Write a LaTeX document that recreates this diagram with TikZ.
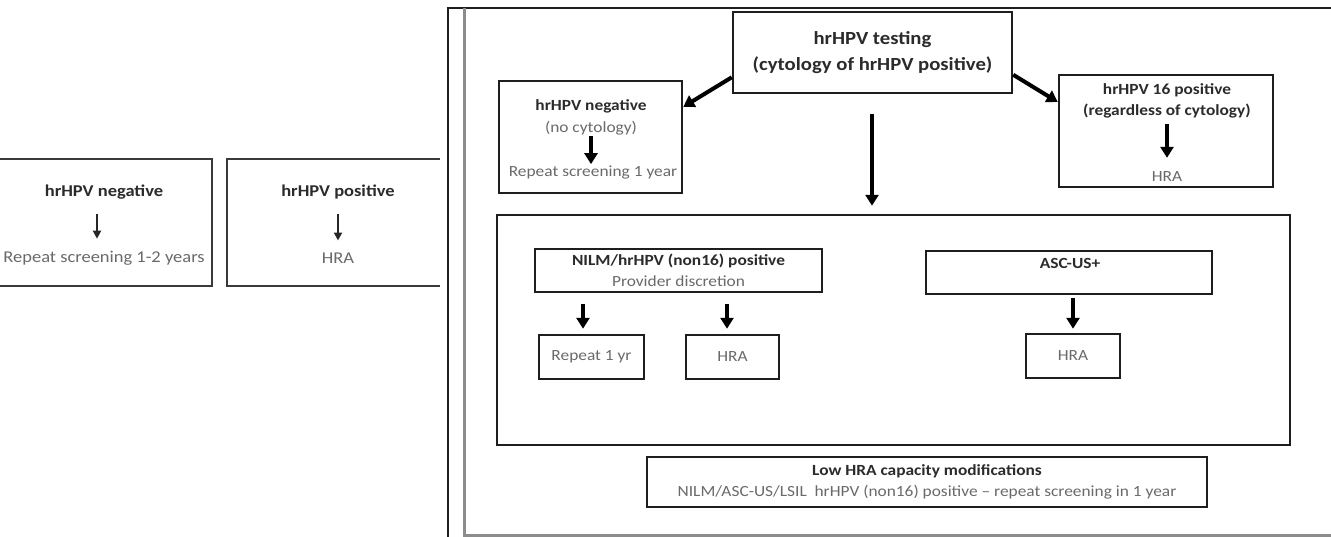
\documentclass[tikz,border=0pt]{standalone}
\usepackage{fontspec}
\setmainfont{Carlito}[FakeStretch=1.12]
\usetikzlibrary{arrows.meta,calc}
\definecolor{linec}{HTML}{1E1E1E}
\definecolor{lbox}{HTML}{3A3A3A}
\definecolor{boldc}{HTML}{2B2B2B}
\definecolor{regc}{HTML}{6A6A6A}
\definecolor{framec}{HTML}{8C8C8C}
\newcommand{\bt}[1]{{\bfseries\color{boldc}#1}}
\newcommand{\rt}[1]{{\color{regc}#1}}
\begin{document}
\begin{tikzpicture}[x=1pt,y=-1pt,
  box/.style={draw=linec, line width=2.5pt, inner sep=0pt, align=center, font=\fontsize{15.5}{20.5}\selectfont},
  lbox/.style={draw=lbox, line width=2.5pt, inner sep=0pt},
  txt/.style={inner sep=0pt, align=center, font=\fontsize{15.5}{21.5}\selectfont},
  ltxt/.style={inner sep=0pt, align=center, font=\fontsize{16.5}{20}\selectfont},
  bigarr/.style={draw=black, line width=4pt, -{Triangle[length=11pt,width=13pt]}},
  smallarr/.style={draw=black!85, line width=2pt, -{Triangle[length=8pt,width=8pt]}},
]
\clip (0,0) rectangle (1331,536);
\fill[white] (0,0) rectangle (1331,536);

% outer frame
\draw[linec, line width=2pt] (1340,8) -- (448,8) -- (448,540);
\draw[framec, line width=3pt] (464,8) -- (464,535) -- (1340,535);

% left boxes
\node[lbox, minimum width=217pt, minimum height=127pt] (L1) at (103.5,222.5) {};
\node[inner sep=0pt, minimum width=213pt, minimum height=127pt] (L2) at (333.5,222.5) {};
\draw[lbox] (L2.north east) -- (L2.north west) -- (L2.south west) -- (L2.south east);
\node[ltxt] (l1t) at (104,192) {\bt{hrHPV negative}};
\node[ltxt] (l1r) at (104,258) {\rt{Repeat screening 1-2 years}};
\node[ltxt] (l2t) at (338,192) {\bt{hrHPV positive}};
\node[ltxt] (l2r) at (338,258) {\rt{HRA}};
\draw[smallarr, shorten <=15pt, shorten >=12pt] ($(l1t.south)+(-7,0)$) -- ($(l1r.north)+(-7,0)$);
\draw[smallarr, shorten <=15pt, shorten >=12pt] (l2t.south) -- (l2r.north);

% top box
\node[box, minimum width=279pt, minimum height=81pt, font=\fontsize{18.5}{26}\selectfont] (top) at (872.5,52.5)
  {\bt{hrHPV testing}\\[0pt]\bt{(cytology of hrHPV positive)}};

% negative box
\node[box, minimum width=183pt, minimum height=112pt] (neg) at (590.5,137) {};
\node[txt] (negt) at (591,117.5) {\bt{hrHPV negative}\\\rt{(no cytology)}};
\node[txt] (negr) at (593,172) {\rt{Repeat screening 1 year}};
\draw[bigarr, shorten <=1pt, shorten >=1pt] (negt.south) -- (negr.north -| negt.south);

% 16 positive box
\node[box, minimum width=214pt, minimum height=112pt] (pos) at (1166,131) {};
\node[txt] (post) at (1167,101) {\bt{hrHPV 16 positive}\\\bt{(regardless of cytology)}};
\node[txt] (posr) at (1167,177) {\rt{HRA}};
\draw[bigarr, shorten <=5pt, shorten >=14pt] (post.south) -- (posr.north);

% big box
\node[box, minimum width=793pt, minimum height=230pt] (big) at (893.5,330) {};

\node[box, minimum width=287pt, minimum height=43pt] (nilm) at (678.5,270.5)
  {\bt{NILM/hrHPV (non16) positive}\\\rt{Provider discretion}};
\node[box, minimum width=105pt, minimum height=44pt] (rep) at (591.5,357) {\rt{Repeat 1 yr}};
\node[box, minimum width=93pt, minimum height=44pt] (hra2) at (732.5,357) {\rt{HRA}};
\node[box, minimum width=286pt, minimum height=43pt] (asc) at (1069,272.5) {};
\node[txt] (asct) at (1070,263) {\bt{ASC-US+}};
\node[box, minimum width=94pt, minimum height=44pt] (hra3) at (1073,356) {\rt{HRA}};

% low capacity box
\node[box, minimum width=560pt, minimum height=50pt] (low) at (927,482)
  {\bt{Low HRA capacity modifications}\\\rt{NILM/ASC-US/LSIL\ \ hrHPV (non16) positive – repeat screening in 1 year}};

% connectors
\draw[bigarr] (top.190) -- (neg.18);
\draw[bigarr] (top.-9) -- (pos.165);
\draw[bigarr, shorten <=20pt, shorten >=8pt] ($(top.south)+(-0.5,0)$) -- ($(big.north -| top.south)+(-0.5,0)$);
\draw[bigarr, shorten <=11pt, shorten >=5pt] ($(nilm.south -| rep.north)+(-8.5,0)$) -- ($(rep.north)+(-8.5,0)$);
\draw[bigarr, shorten <=11pt, shorten >=5pt] ($(nilm.south -| hra2.north)+(-5.5,0)$) -- ($(hra2.north)+(-5.5,0)$);
\draw[bigarr, shorten <=3pt, shorten >=4pt] (asc.south -| hra3.north) -- (hra3.north);
\end{tikzpicture}
\end{document}
